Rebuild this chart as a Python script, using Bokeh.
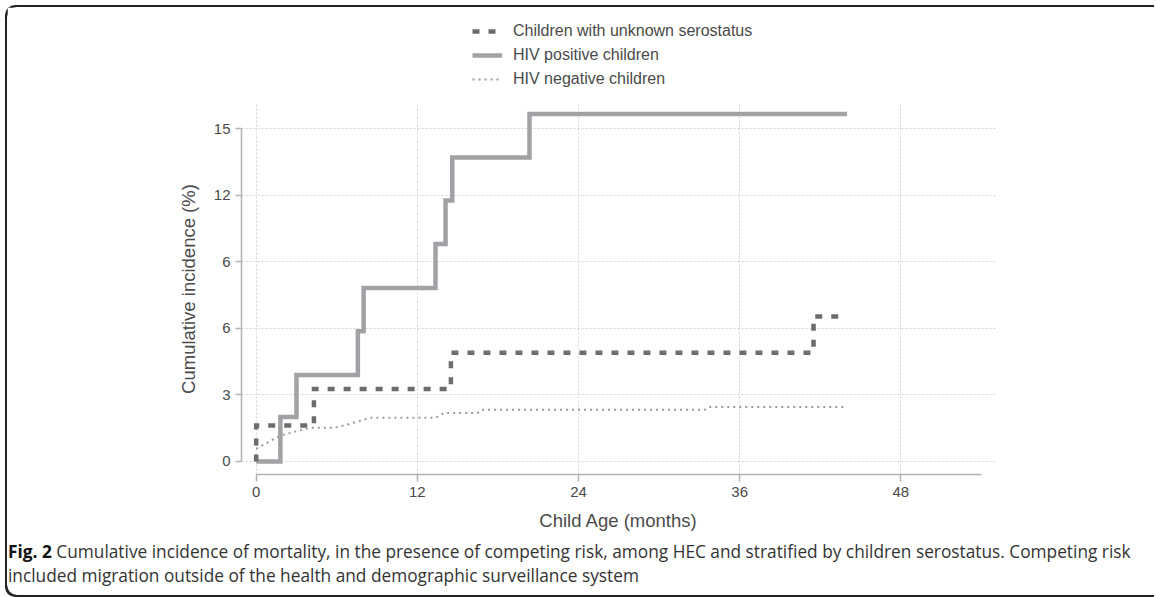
from bokeh.plotting import figure
from bokeh.models import Range1d, FixedTicker, Legend, LegendItem, Div
from bokeh.layouts import column
from bokeh.embed import file_html
from bokeh.resources import INLINE

# ---------------- data ----------------
unknown_x = [0, 0, 4.3, 14.5, 41.5, 44.0]
unknown_y = [0, 1.62, 3.27, 4.9, 6.53, 6.53]

hivpos_x = [0, 1.8, 3.0, 7.57, 8.0, 13.35, 14.1, 14.6, 20.35, 44.0]
hivpos_y = [0, 2.0, 3.9, 5.87, 7.82, 9.8, 11.76, 13.7, 15.66, 15.66]

hivneg_x = [0, 1.8, 4.0, 5.8, 7.0, 8.5, 13.35, 14.0, 16.5, 16.8, 33.4, 33.7, 44.0]
hivneg_y = [0.57, 1.17, 1.52, 1.52, 1.7, 1.97, 1.97, 2.19, 2.19, 2.33, 2.33, 2.45, 2.45]

x_ticks = [0, 12, 24, 36, 48]
y_ticks = [0, 3, 6, 9, 12, 15]
y_tick_labels = ["0", "3", "6", "6", "12", "15"]

series_names = ["Children with unknown serostatus", "HIV positive children",
                "HIV negative children"]
x_title = "Child Age (months)"
y_title = "Cumulative incidence (%)"
caption_bold = "Fig. 2"
caption_line1 = ("Cumulative incidence of mortality, in the presence of competing risk, "
                 "among HEC and stratified by children serostatus. Competing risk")
caption_line2 = "included migration outside of the health and demographic surveillance system"

# ---------------- styles ----------------
AX_COL = "#b2b2b2"
TXT_COL = "#4a4a4a"
FONT = "Liberation Sans"
STYLE = {
    "unk": dict(line_color="#6c6c6c", line_width=4.5, line_dash="7 9", line_join="miter"),
    "pos": dict(line_color="#a2a2a6", line_width=4.5, line_join="miter"),
    "neg": dict(line_color="#9a9a9a", line_width=2, line_dash="2 4"),
}

# ---------------- page geometry (px) ----------------
OX, OY = 7, 7                        # content origin on page
W = 1156 - OX                        # content width
FL, FR, FT, FB = 241, 995, 103, 474  # plot frame edges on page
MAIN_BOTTOM = 540                    # page y where the caption starts

# ---------------- legend strip ----------------
pl = figure(width=W, height=FT - OY, output_backend="svg", toolbar_location=None,
            x_range=Range1d(0, 1), y_range=Range1d(0, 1),
            min_border=0, x_axis_type=None, y_axis_type=None)
pl.outline_line_color = None
pl.grid.visible = False
pl.border_fill_color = "white"
d_unk = pl.line([-3, -2], [-3, -3], **STYLE["unk"])
d_pos = pl.line([-3, -2], [-3, -3], **STYLE["pos"])
d_neg = pl.line([-3, -2], [-3, -3], **STYLE["neg"])
legend = Legend(items=[LegendItem(label=series_names[0], renderers=[d_unk]),
                       LegendItem(label=series_names[1], renderers=[d_pos]),
                       LegendItem(label=series_names[2], renderers=[d_neg])],
                location=(472 - FL, FT - 91), glyph_width=30, glyph_height=24,
                label_height=24, label_standoff=11, spacing=0, padding=0,
                margin=0, border_line_color=None, background_fill_alpha=0,
                label_text_font=FONT, label_text_font_size="16px",
                label_text_color=TXT_COL)
pl.add_layout(legend, "center")

# ---------------- main plot ----------------
p = figure(width=W, height=MAIN_BOTTOM - FT, output_backend="svg", toolbar_location=None,
           x_range=Range1d(-1.094, 55.05), y_range=Range1d(-0.586, 16.13),
           min_border_left=FL - OX, min_border_right=W - (FR - OX),
           min_border_top=0, min_border_bottom=MAIN_BOTTOM - FB)
p.outline_line_color = None
p.background_fill_color = "white"
p.border_fill_color = "white"

for ax in (p.xaxis[0], p.yaxis[0]):
    ax.axis_line_color = AX_COL
    ax.axis_line_width = 1.5
    ax.major_tick_line_color = AX_COL
    ax.major_tick_line_width = 1.5
    ax.major_tick_in = 0
    ax.minor_tick_line_color = None
    ax.major_label_text_font = FONT
    ax.major_label_text_font_size = "15px"
    ax.major_label_text_color = TXT_COL
    ax.axis_label_text_font = FONT
    ax.axis_label_text_font_size = "18.5px"
    ax.axis_label_text_font_style = "normal"
    ax.axis_label_text_color = TXT_COL

p.xaxis.ticker = FixedTicker(ticks=x_ticks)
p.yaxis.ticker = FixedTicker(ticks=y_ticks)
p.yaxis.major_label_overrides = {t: l for t, l in zip(y_ticks, y_tick_labels)}
p.xaxis.bounds = (0, 54)
p.yaxis.bounds = (0, 15)
p.xaxis.major_tick_out = 7
p.yaxis.major_tick_out = 6
p.xaxis.major_label_standoff = 5
p.yaxis.major_label_standoff = 5
p.xaxis.axis_label = x_title
p.yaxis.axis_label = y_title
p.xaxis.axis_label_standoff = 10
p.yaxis.axis_label_standoff = 12

p.xgrid.ticker = FixedTicker(ticks=x_ticks)
p.ygrid.ticker = FixedTicker(ticks=y_ticks)
for g in (p.xgrid[0], p.ygrid[0]):
    g.grid_line_color = "#d2d2d2"
    g.grid_line_dash = "2 2"
    g.grid_line_width = 1

p.step(hivpos_x, hivpos_y, mode="after", **STYLE["pos"])
p.step(unknown_x, unknown_y, mode="after", **STYLE["unk"])
p.line(hivneg_x, hivneg_y, **STYLE["neg"])

# ---------------- caption ----------------
cap_html = ('<div style="font-family:\'Open Sans\';font-size:17.3px;line-height:24px;'
            'color:#333333;white-space:nowrap;padding:0 0 0 1px;">'
            '<b style="color:#111111">' + caption_bold + '</b> ' + caption_line1 +
            '<br>' + caption_line2 + '</div>')
cap = Div(text=cap_html, width=W, height=597 - 2 - MAIN_BOTTOM, margin=0)

page = column(pl, p, cap, margin=(OY, 0, 0, OX), spacing=0,
              styles={"border-radius": "10px 0 0 10px",
                      "box-shadow": "-2px -2px 0 0 #222222, -2px 2px 0 0 #222222"})

open("out.html", "w").write(file_html(page, INLINE))
